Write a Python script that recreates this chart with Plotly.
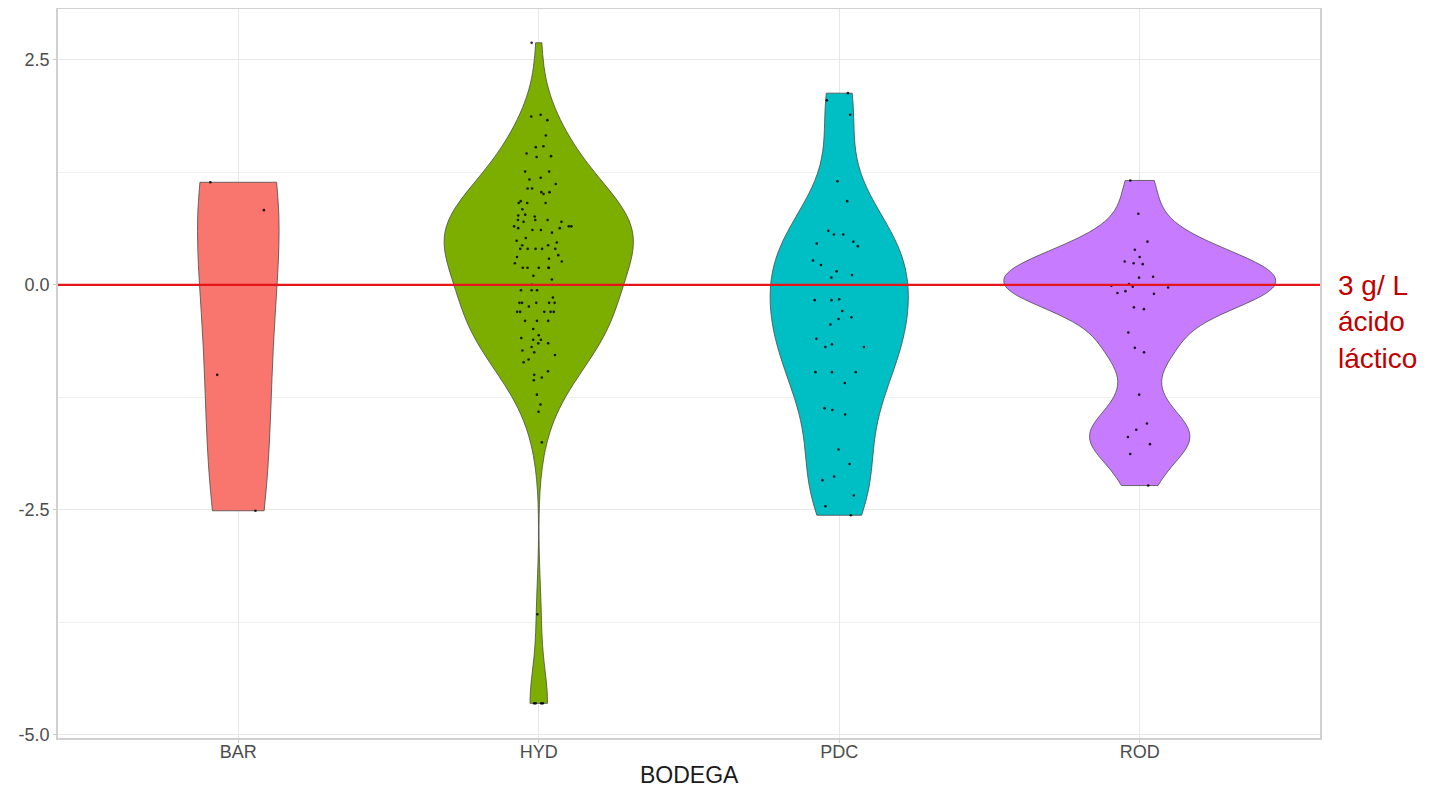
import numpy as np
import plotly.graph_objects as go

# ---------------- data ----------------
categories = ["BAR", "HYD", "PDC", "ROD"]
colors = ["#F8766D", "#7CAE00", "#00BFC4", "#C77CFF"]

bar_values = [1.14, 0.83, -1.00, -2.51]

hyd_values = [
    2.69,
    1.89, 1.87, 1.83, 1.66, 1.53, 1.54, 1.46, 1.43, 1.42,
    1.26, 1.26, 1.19, 1.17, 1.12, 1.07, 1.07, 1.03, 1.03, 1.01,
    0.93, 0.91, 0.91, 0.91, 0.84, 0.78, 0.77, 0.76, 0.72, 0.72, 0.72, 0.70, 0.70,
    0.65, 0.65, 0.65, 0.63, 0.63, 0.61, 0.61, 0.58, 0.52, 0.49, 0.47, 0.44, 0.44,
    0.40, 0.40, 0.40, 0.40, 0.40, 0.33, 0.31, 0.29, 0.26, 0.24,
    0.19, 0.19, 0.19, 0.19, 0.19,
    0.10, 0.06, 0.00, -0.06, -0.06, -0.06, -0.14,
    -0.20, -0.20, -0.20, -0.20, -0.20, -0.24,
    -0.30, -0.30, -0.30, -0.30, -0.30, -0.40, -0.40, -0.40,
    -0.49, -0.56, -0.59, -0.61, -0.61, -0.65, -0.65, -0.69, -0.73, -0.75,
    -0.78, -0.83, -0.86, -0.96, -1.00, -1.03, -1.06, -1.22, -1.33, -1.41,
    -1.75, -3.66, -4.65, -4.65, -4.65, -4.65,
]

pdc_values = [
    2.13, 2.05, 1.89, 1.15, 0.93, 0.60, 0.56, 0.56, 0.48, 0.46, 0.43,
    0.27, 0.22, 0.15, 0.11, 0.08, -0.17, -0.17, -0.16, -0.29, -0.36,
    -0.38, -0.44, -0.60, -0.69, -0.66, -0.69, -0.97, -0.97, -0.97, -1.09,
    -1.37, -1.39, -1.44, -1.83, -1.99, -2.13, -2.17, -2.34, -2.46, -2.56,
]

rod_values = [
    1.16, 0.79, 0.48, 0.39, 0.31, 0.26, 0.24, 0.23, 0.09, 0.08, -0.01,
    0.01, -0.02, -0.03, -0.07, -0.09, -0.10, -0.25, -0.27, -0.53, -0.70,
    -0.75, -1.22, -1.54, -1.61, -1.69, -1.77, -1.88, -2.23,
]

group_values = [bar_values, hyd_values, pdc_values, rod_values]

y_tick_vals = [-5.0, -2.5, 0.0, 2.5]
y_tick_text = ["-5.0", "-2.5", "0.0", "2.5"]
reference_level = 0.0
reference_label = "3 g/ L<br>ácido<br>láctico"
x_title = "BODEGA"

# violin max widths (category units), mimicking ggplot "area" scaling
violin_widths = [0.27, 0.63, 0.46, 0.90]
# kernel bandwidth adjustment relative to Silverman (nrd0)
bw_adjust = [1.0, 1.3, 1.0, 0.75]


def nrd0(v):
    v = np.asarray(v, dtype=float)
    sd = v.std(ddof=1)
    q75, q25 = np.percentile(v, [75, 25])
    lo = min(sd, (q75 - q25) / 1.34)
    if lo <= 0:
        lo = sd
    return 0.9 * lo * len(v) ** (-0.2)


fig = go.Figure()
for cat, col, vals, w, adj in zip(categories, colors, group_values,
                                  violin_widths, bw_adjust):
    fig.add_trace(go.Violin(
        x=[cat] * len(vals),
        y=vals,
        name=cat,
        width=w,
        bandwidth=nrd0(vals) * adj,
        spanmode="hard",
        scalemode="width",
        fillcolor=col,
        opacity=1,
        line=dict(color="#4a4a4a", width=0.8),
        points="all",
        pointpos=0,
        jitter=min(1.0, 0.22 / w),
        marker=dict(color="black", size=2.6, opacity=0.85),
        box_visible=False,
        meanline_visible=False,
        showlegend=False,
        hoveron="violins+points",
    ))

fig.add_shape(type="line", xref="paper", x0=0, x1=1, yref="y",
              y0=reference_level, y1=reference_level,
              line=dict(color="#E5161B", width=2.2), layer="above")

font_family = "Arial, Liberation Sans, sans-serif"

fig.add_annotation(text=reference_label, xref="paper", x=1.0, xshift=16,
                   xanchor="left", yref="y", y=-0.41, yanchor="middle",
                   showarrow=False, align="left",
                   font=dict(family=font_family, size=28, color="#C00000"))

fig.add_annotation(text=x_title, xref="paper", x=0.5, xanchor="center",
                   yref="paper", y=0, yanchor="middle", yshift=-37,
                   showarrow=False,
                   font=dict(family=font_family, size=23, color="#1a1a1a"))

grid = "#E8E8E8"
fig.update_layout(
    # page body adds an 8px offset, so the figure is sized to fit the window
    width=1435, height=779,
    margin=dict(l=50, r=123, t=1, b=49),
    paper_bgcolor="white", plot_bgcolor="white",
    violinmode="overlay",
    font=dict(family=font_family, color="#4D4D4D"),
    xaxis=dict(
        type="category", categoryorder="array", categoryarray=categories,
        range=[-0.6, 3.6], automargin=False,
        showgrid=True, gridcolor=grid, gridwidth=1,
        ticks="outside", ticklen=3, tickcolor="#C8C8C8",
        ticklabelstandoff=-6,
        tickfont=dict(size=18, color="#4D4D4D"),
        showline=True, mirror=True, linecolor="#D0D0D0", linewidth=1.5,
        zeroline=False,
    ),
    yaxis=dict(
        range=[-5.035, 3.065], automargin=False,
        tickvals=y_tick_vals, ticktext=y_tick_text,
        showgrid=True, gridcolor=grid, gridwidth=1,
        minor=dict(tickvals=[-3.75, -1.25, 1.25], showgrid=True,
                   gridcolor="#F0F0F0", gridwidth=1, ticks=""),
        ticks="outside", ticklen=3, tickcolor="#C8C8C8",
        tickfont=dict(size=18, color="#4D4D4D"),
        showline=True, mirror=True, linecolor="#D0D0D0", linewidth=1.5,
        zeroline=False,
    ),
)

fig.write_html("out.html")
